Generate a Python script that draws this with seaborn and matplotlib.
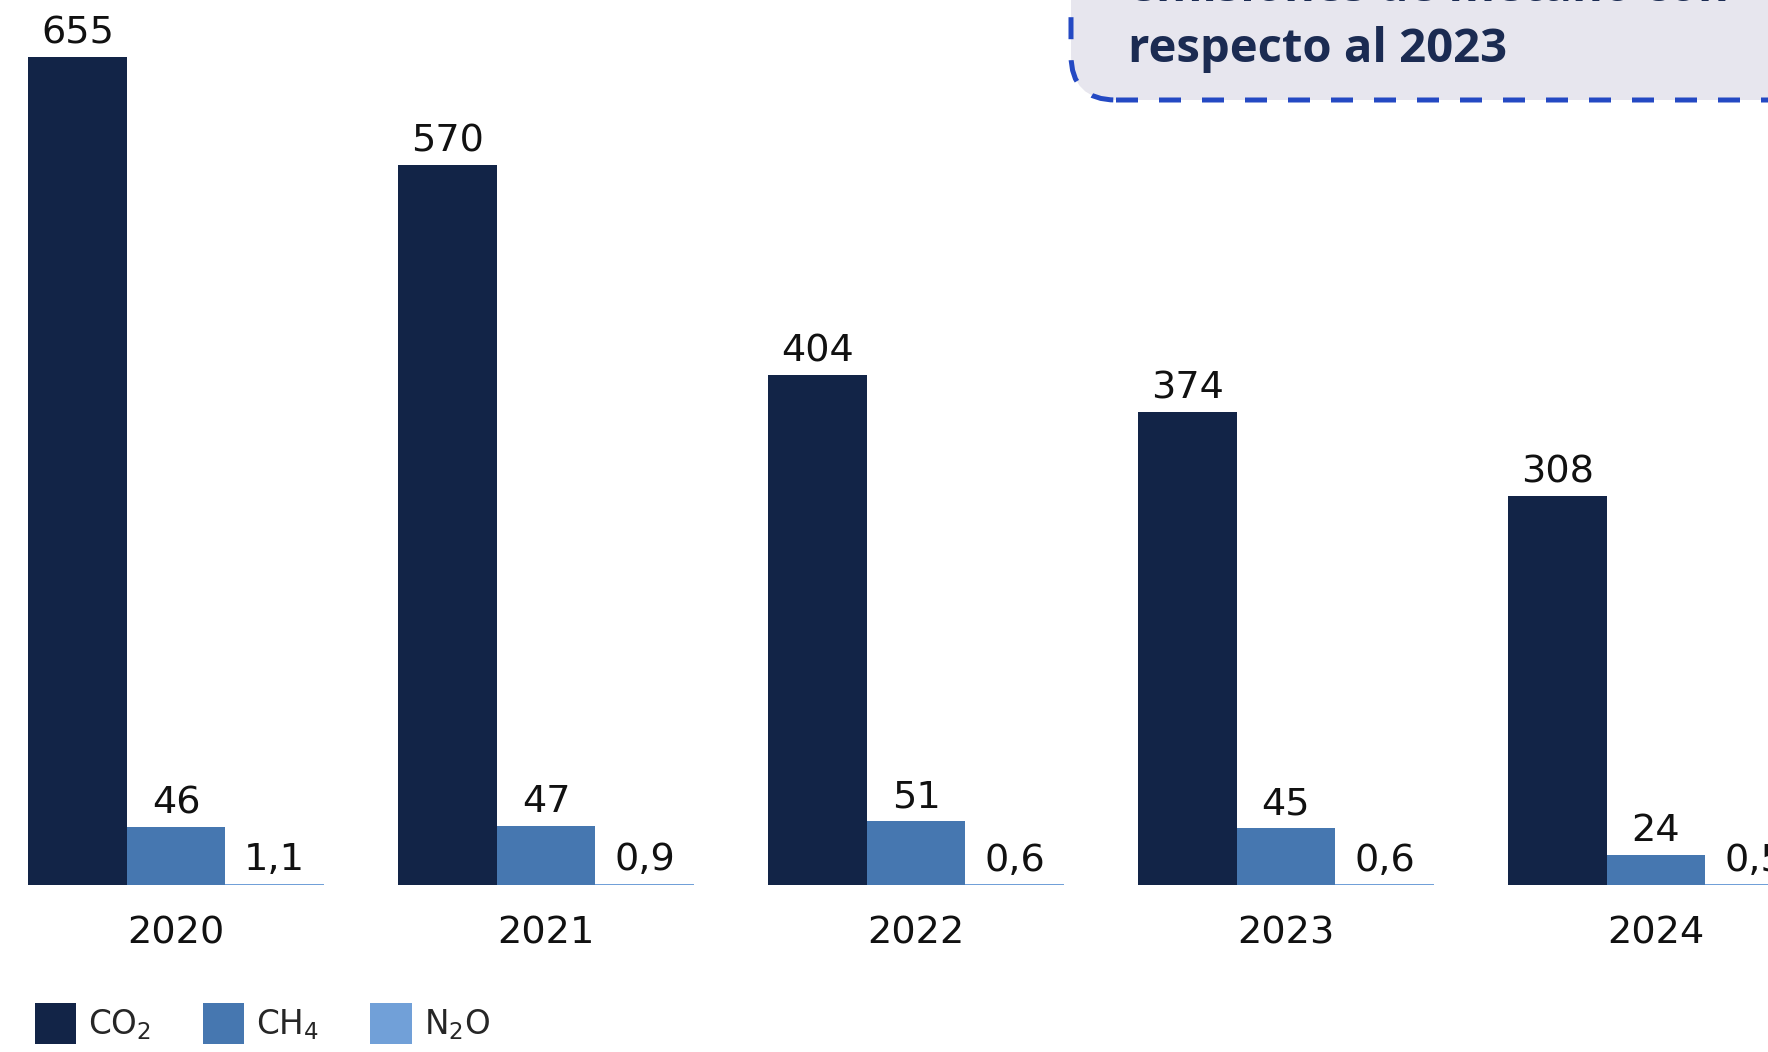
"""
Emisiones anuales de gases de efecto invernadero por gas (2020-2024).
"""

import matplotlib.pyplot as plt
import pandas as pd
import seaborn as sns
from matplotlib.patches import FancyBboxPatch, Patch

years = ["2020", "2021", "2022", "2023", "2024"]
co2 = [655, 570, 404, 374, 308]
ch4 = [46, 47, 51, 45, 24]
n2o = [1.1, 0.9, 0.6, 0.6, 0.5]
gases = ["CO2", "CH4", "N2O"]
legend_labels = ["CO$_2$", "CH$_4$", "N$_2$O"]
box_lines = ["emisiones de metano con", "respecto al 2023"]

colors = ["#122447", "#4677B0", "#71A0D8"]
navy_text = "#1B2B52"

df = pd.DataFrame(
    {
        "year": years * 3,
        "gas": [g for g in gases for _ in years],
        "value": co2 + ch4 + n2o,
    }
)

sns.set_theme(style="white")
plt.rcParams["font.family"] = ["DejaVu Sans"]

fig = plt.figure(figsize=(17.68, 10.52), dpi=100)
ax = fig.add_axes([0, 167 / 1052, 1, 885 / 1052])

sns.barplot(
    data=df,
    x="year",
    y="value",
    hue="gas",
    palette=colors,
    saturation=1,
    width=0.8,
    linewidth=0,
    legend=False,
    ax=ax,
)

# value labels with decimal comma
for container, series in zip(ax.containers, [co2, ch4, n2o]):
    labels = [f"{v:g}".replace(".", ",") for v in series]
    ax.bar_label(container, labels=labels, padding=4, fontsize=27.5, color="#111111")

ax.set_xlim(-0.476, 4.303)
ax.set_ylim(0, 700.5)
ax.set_xlabel("")
ax.set_ylabel("")
ax.set_yticks([])
ax.tick_params(axis="x", length=0, pad=22, labelsize=27.5, labelcolor="#111111")
sns.despine(ax=ax, left=True, bottom=True)

# legend
handles = [Patch(facecolor=c, edgecolor="none") for c in colors]
fig.legend(
    handles,
    legend_labels,
    loc="lower left",
    bbox_to_anchor=(35 / 1768, 8 / 1052),
    ncol=3,
    frameon=False,
    fontsize=23.5,
    handlelength=1.27,
    handleheight=1.55,
    handletextpad=0.36,
    columnspacing=1.58,
    borderaxespad=0,
    borderpad=0,
)

# callout box, cut by the top-right edge of the figure
box = FancyBboxPatch(
    (10.71, 9.52),
    8.0,
    3.0,
    boxstyle="round,pad=0,rounding_size=0.45",
    transform=fig.dpi_scale_trans,
    facecolor="#E7E6EE",
    edgecolor="#2449C3",
    linewidth=3.6,
    linestyle=(0, (4.4, 4.2)),
    zorder=5,
)
fig.add_artist(box)
fig.text(
    1128 / 1768, 1 - 1 / 1052, box_lines[0],
    fontsize=34, fontweight="bold", color=navy_text,
    family=["Open Sans", "DejaVu Sans"], va="baseline", zorder=6,
)
fig.text(
    1128 / 1768, 1 - 62 / 1052, box_lines[1],
    fontsize=34, fontweight="bold", color=navy_text,
    family=["Open Sans", "DejaVu Sans"], va="baseline", zorder=6,
)

fig.savefig("out.png", dpi=100)
